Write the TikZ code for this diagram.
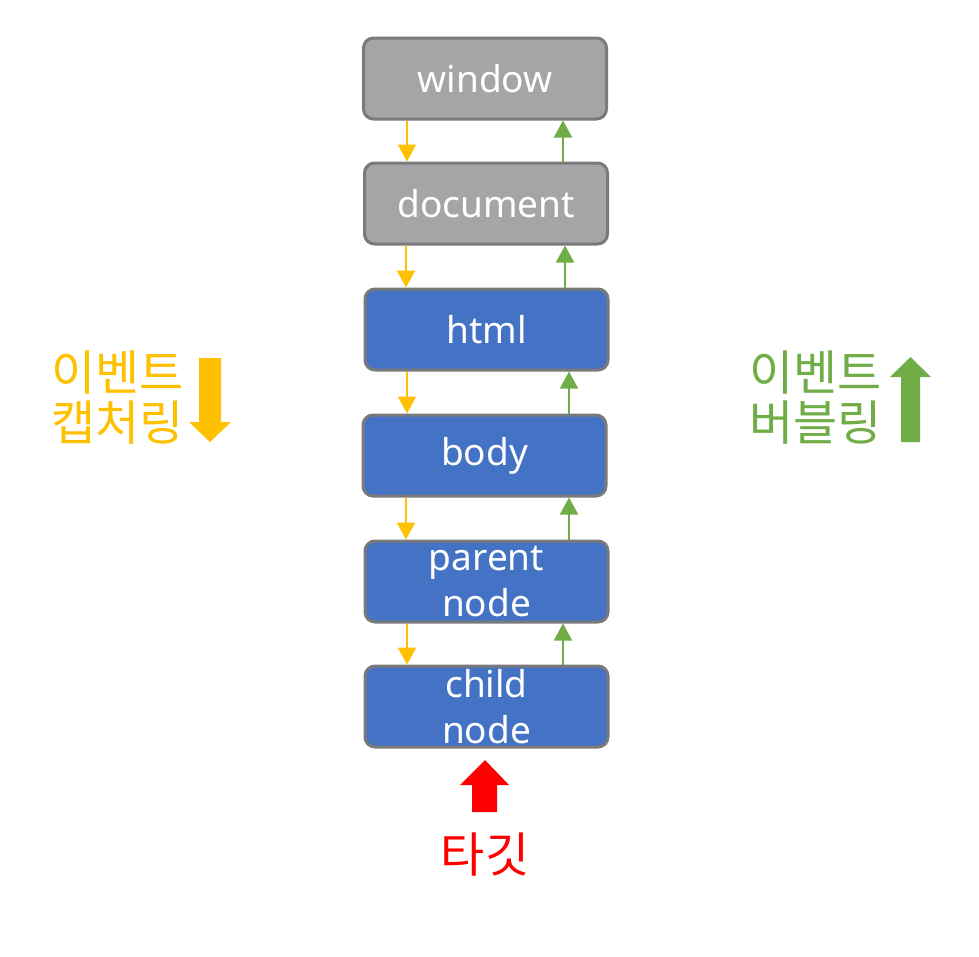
\documentclass[tikz,border=0pt]{standalone}
\usepackage{fontspec}
\setmainfont{Noto Sans}
\newfontfamily\kr{Noto Sans CJK KR}
\usetikzlibrary{arrows.meta}
\definecolor{boxgray}{HTML}{A5A5A5}
\definecolor{bordergray}{HTML}{7A7A7A}
\definecolor{boxblue}{HTML}{4472C4}
\definecolor{capyellow}{HTML}{FFC000}
\definecolor{bubgreen}{HTML}{70AD47}
\definecolor{tgtred}{HTML}{FF0000}
\begin{document}
\begin{tikzpicture}[x=1pt,y=-1pt,
  box/.style={draw=bordergray, line width=3pt, rounded corners=10pt, minimum width=243pt, minimum height=81pt, inner sep=0pt, font=\fontsize{37}{46}\selectfont, text=white, align=center},
  graybox/.style={box, fill=boxgray},
  bluebox/.style={box, fill=boxblue},
  capline/.style={draw=capyellow, line width=2pt, -{Triangle[width=18pt,length=17pt]}},
  bubline/.style={draw=bubgreen, line width=2pt, -{Triangle[width=18pt,length=17pt]}},
  sidelabel/.style={font=\kr\fontsize{48}{50}\selectfont, align=left, inner sep=0pt}]
\useasboundingbox (0,0) rectangle (979,956);
\fill[white] (0,0) rectangle (979,956);

\node[graybox] (window) at (485,78.5) {window};
\node[graybox] (document) at (486,203.5) {document};
\node[bluebox] (html) at (486.5,329.5) {html};
\node[bluebox] (body) at (484.5,455.5) {body};
\node[bluebox] (parent) at (486.5,581.5) {parent\\node};
\node[bluebox] (child) at (486.5,706.5) {child\\node};

% capturing (down)
\draw[capline] ([xshift=-78pt]window.south) -- ([xshift=-79pt]document.north);
\draw[capline] ([xshift=-80pt]document.south) -- ([xshift=-80.5pt]html.north);
\draw[capline] ([xshift=-79.5pt]html.south) -- ([xshift=-77.5pt]body.north);
\draw[capline] ([xshift=-78.5pt]body.south) -- ([xshift=-80.5pt]parent.north);
\draw[capline] ([xshift=-79.5pt]parent.south) -- ([xshift=-79.5pt]child.north);

% bubbling (up)
\draw[bubline] ([xshift=77pt]document.north) -- ([xshift=78pt]window.south);
\draw[bubline] ([xshift=78.5pt]html.north) -- ([xshift=79pt]document.south);
\draw[bubline] ([xshift=84.5pt]body.north) -- ([xshift=82.5pt]html.south);
\draw[bubline] ([xshift=82.5pt]parent.north) -- ([xshift=84.5pt]body.south);
\draw[bubline] ([xshift=76.5pt]child.north) -- ([xshift=76.5pt]parent.south);

% side labels
\node[sidelabel, text=capyellow, anchor=west] (caplbl) at (51,398) {이벤트\\캡처링};
\fill[capyellow] (199,358) -- (221,358) -- (221,422) -- (231,422) -- (210,442) -- (189,422) -- (199,422) -- cycle;

\node[sidelabel, text=bubgreen, anchor=west] (bublbl) at (749,398) {이벤트\\버블링};
\fill[bubgreen] (901,442) -- (920,442) -- (920,377) -- (931,377) -- (910.5,357) -- (890,377) -- (901,377) -- cycle;

% target
\fill[tgtred] (472,812) -- (497,812) -- (497,785) -- (509,785) -- (485,760) -- (460,785) -- (472,785) -- cycle;
\node[sidelabel, text=tgtred, anchor=center] (target) at (485,855) {타깃};
\end{tikzpicture}
\end{document}
